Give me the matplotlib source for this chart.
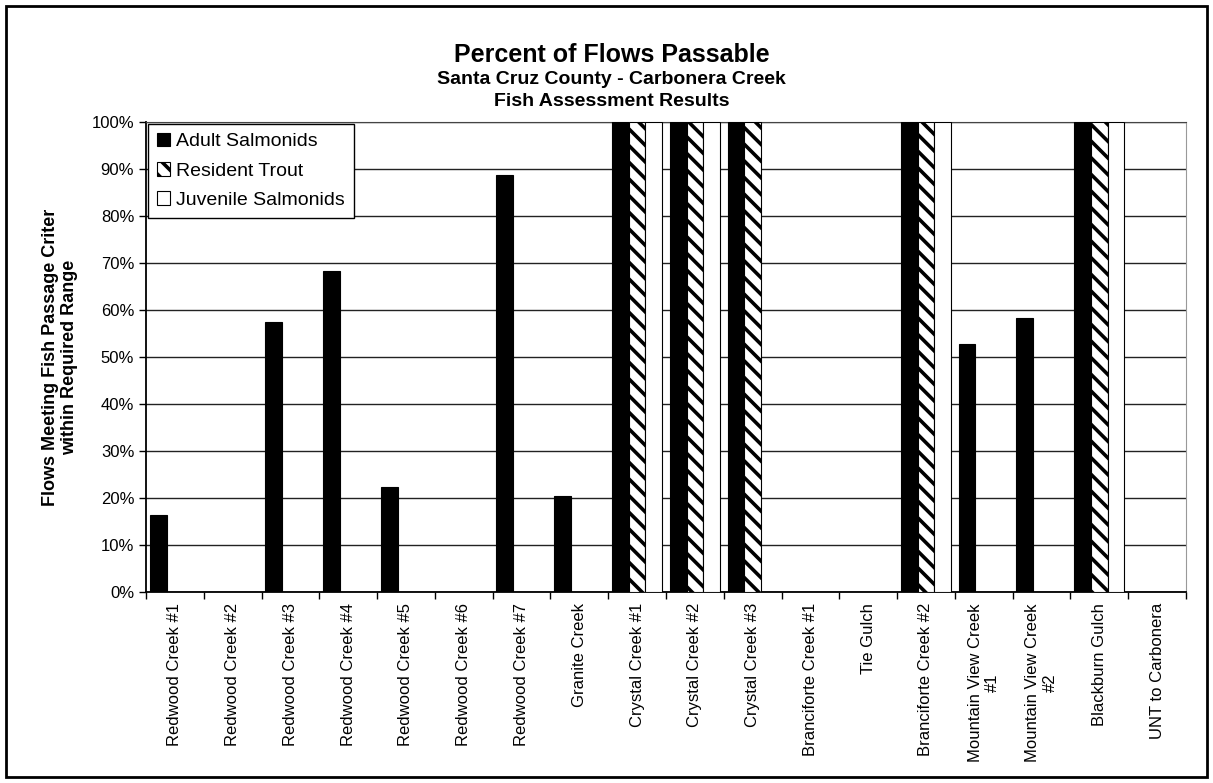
import numpy as np
import matplotlib
matplotlib.use("Agg")
import matplotlib.pyplot as plt
from matplotlib.patches import Rectangle
from matplotlib.ticker import FixedLocator, FuncFormatter

plt.rcParams['font.family'] = ['Liberation Sans', 'DejaVu Sans']
plt.rcParams['hatch.linewidth'] = 2.6

sites = [
    "Redwood Creek #1", "Redwood Creek #2", "Redwood Creek #3", "Redwood Creek #4",
    "Redwood Creek #5", "Redwood Creek #6", "Redwood Creek #7", "Granite Creek",
    "Crystal Creek #1", "Crystal Creek #2", "Crystal Creek #3", "Branciforte Creek #1",
    "Tie Gulch", "Branciforte Creek #2", "Mountain View Creek\n#1",
    "Mountain View Creek\n#2", "Blackburn Gulch", "UNT to Carbonera",
]
adult_salmonids = [16.4, 0, 57.4, 68.3, 22.4, 0, 88.7, 20.4,
                   100, 100, 100, 0, 0, 100, 52.8, 58.3, 100, 0]
resident_trout = [0, 0, 0, 0, 0, 0, 0, 0,
                  100, 100, 100, 0, 0, 100, 0, 0, 100, 0]
juvenile_salmonids = [0, 0, 0, 0, 0, 0, 0, 0,
                      100, 100, 0, 0, 0, 100, 0, 0, 100, 0]

fig = plt.figure(figsize=(12.13, 7.83), dpi=100)
ax = fig.add_axes([146 / 1213, 1 - 592 / 783, (1186 - 146) / 1213, (592 - 122) / 783])

x = np.arange(len(sites))
w = 0.29
ax.bar(x - w, adult_salmonids, w, color='black', edgecolor='black', linewidth=0.8,
       label='Adult Salmonids', zorder=3)
ax.bar(x, resident_trout, w, color='white', edgecolor='black', linewidth=0.8,
       hatch='\\\\', label='Resident Trout', zorder=3)
ax.bar(x + w, juvenile_salmonids, w, color='white', edgecolor='black', linewidth=0.8,
       label='Juvenile Salmonids', zorder=3)

ax.set_xlim(-0.5, len(sites) - 0.5)
ax.set_ylim(0, 100)
ax.yaxis.set_major_locator(FixedLocator(np.arange(0, 101, 10)))
ax.yaxis.set_major_formatter(FuncFormatter(lambda v, p: f"{v:.0f}%"))
ax.grid(axis='y', color='#222222', linewidth=1.0, zorder=0)
ax.set_axisbelow(True)

ax.set_xticks(x)
ax.set_xticklabels(sites, rotation=90, fontsize=12, va='top', ha='center',
                   multialignment='center')
ax.tick_params(axis='x', which='major', length=0, pad=8)
ax.set_xticks(np.arange(-0.5, len(sites), 1), minor=True)
ax.tick_params(axis='x', which='minor', length=5, width=1, direction='out', color='black')
ax.tick_params(axis='y', length=5, width=1, direction='out', labelsize=12, color='black')

for side in ['left', 'bottom']:
    ax.spines[side].set_color('black')
    ax.spines[side].set_linewidth(1.3)
ax.spines['top'].set_color('#444444')
ax.spines['right'].set_color('#999999')

ax.set_ylabel("Flows Meeting Fish Passage Criter\nwithin Required Range",
              fontsize=13, fontweight='bold', labelpad=10, linespacing=1.1)

leg = ax.legend(loc='upper left', bbox_to_anchor=(0.0, 1.0), fontsize=14,
                frameon=True, fancybox=False, edgecolor='black', framealpha=1,
                handlelength=0.7, handleheight=0.7, handletextpad=0.3,
                labelspacing=0.6, borderpad=0.45, borderaxespad=0.1)
leg.get_frame().set_linewidth(1.0)
leg.set_zorder(5)

fig.text(0.504, 1 - 55 / 783, "Percent of Flows Passable", ha='center', va='center',
         fontsize=18, fontweight='bold')
fig.text(0.504, 1 - 79 / 783, "Santa Cruz County - Carbonera Creek", ha='center',
         va='center', fontsize=14, fontweight='bold')
fig.text(0.504, 1 - 101 / 783, "Fish Assessment Results", ha='center', va='center',
         fontsize=14, fontweight='bold')

fig.patches.append(Rectangle((6 / 1213, 6 / 783), 1 - 12 / 1213, 1 - 12 / 783,
                             transform=fig.transFigure, fill=False,
                             edgecolor='black', linewidth=2))

fig.savefig("out.png", dpi=100)
